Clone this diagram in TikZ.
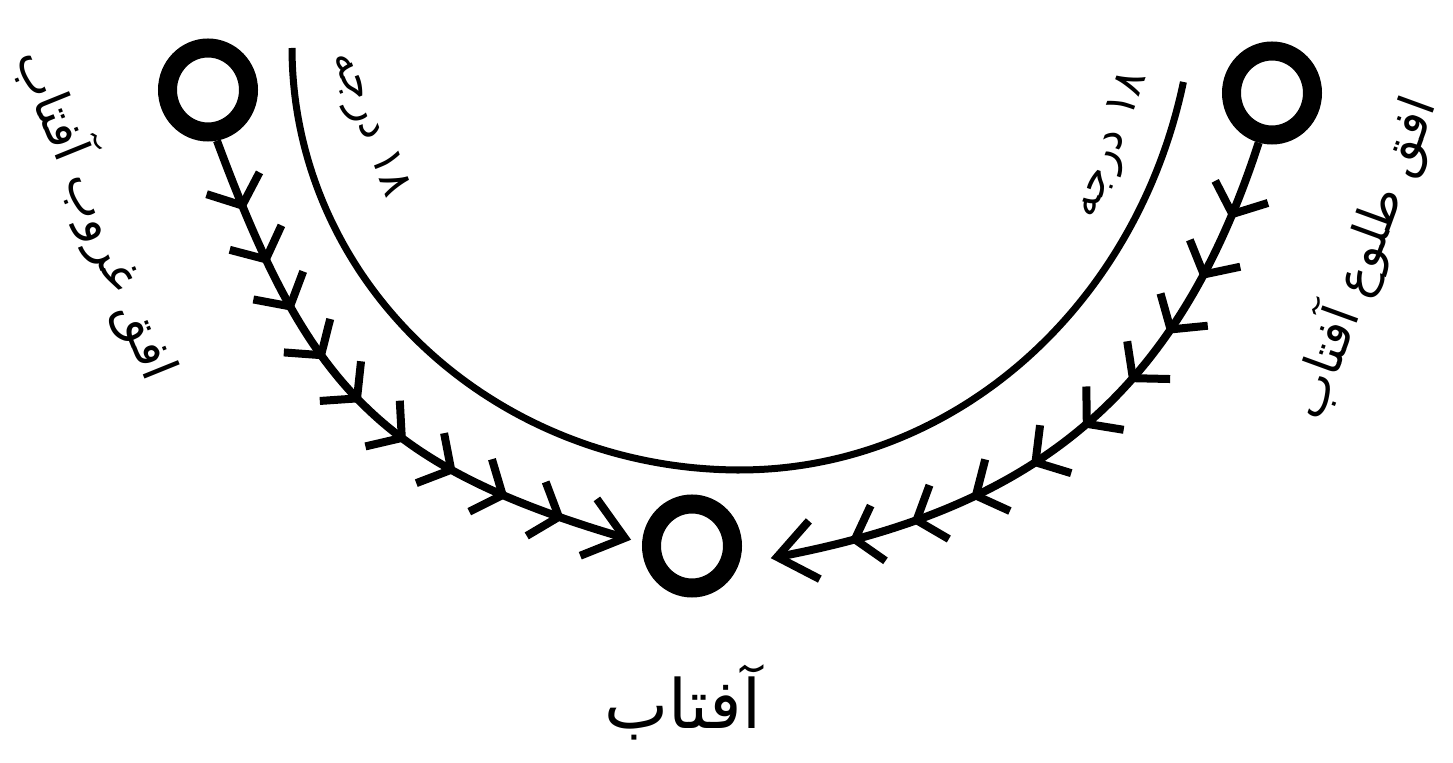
\documentclass[tikz,border=0pt]{standalone}
\usepackage{fontspec}
\newfontfamily\arabicfont[Script=Arabic]{DejaVu Sans}
\usetikzlibrary{shapes.geometric,decorations.markings}
\TeXXeTstate=1
\newcommand\chevmark{\draw[line width=4pt,line cap=butt,line join=miter] (-12pt,14.3pt) -- (0pt,0pt) -- (-12pt,-14.3pt);}
\newcommand\tipmark{\draw[line width=4pt,line cap=butt,line join=miter] (-18.9pt,14.8pt) -- (0pt,0pt) -- (-18.9pt,-14.8pt);}
\tikzset{
  ring/.style={ellipse, draw, line width=9.5pt, minimum width=40.5pt, minimum height=42pt, inner sep=0pt},
  biglabel/.style={font=\arabicfont\fontsize{25}{30}\selectfont, inner sep=0pt},
  smalllabel/.style={font=\arabicfont\fontsize{22}{27}\selectfont, inner sep=0pt},
  sunlabel/.style={font=\arabicfont\fontsize{34}{40}\selectfont, inner sep=0pt},
  flowline/.style={line width=4pt, line cap=butt, postaction={decorate}},
  arcline/.style={line width=3.5pt, line cap=butt}
}
\begin{document}
\begin{tikzpicture}[x=0.5pt,y=-0.5pt]
\fill[white] (0,0) rectangle (1453,763);
\useasboundingbox (0,0) rectangle (1453,763);
% circles
\node[ring] (lc) at (208,90) {};
\node[ring] (rc) at (1272,93) {};
\node[ring] (sun) at (692,546) {};
\coordinate (ltip) at (625,538);
\coordinate (rtip) at (777,557);
% labels
\node[sunlabel] (sunname) at (683,702) {\beginR آفتاب\endR};
\node[biglabel, rotate=-68] (setlabel) at (97,214) {\beginR افق غروب آفتاب\endR};
\node[biglabel, rotate=70] (riselabel) at (1362,258) {\beginR افق طلوع آفتاب\endR};
\node[smalllabel, rotate=-69] (ldeg) at (368,125) {\beginR\beginL ۱۸\endL{} درجه\endR};
\node[smalllabel, rotate=70] (rdeg) at (1112,145) {\beginR\beginL ۱۸\endL{} درجه\endR};
% big arc (two elliptic quarters)
\draw[arcline] plot[domain=0:90,samples=60,smooth] ({740-448*cos(\x)},{48+422*sin(\x)})
  -- plot[domain=90:12.94,samples=60,smooth] ({740+455*cos(\x)},{-30+500*sin(\x)});
% left flow
\draw[flowline, decoration={markings,
  mark=at position 0.1157 with {\chevmark},
  mark=at position 0.2135 with {\chevmark},
  mark=at position 0.3015 with {\chevmark},
  mark=at position 0.3977 with {\chevmark},
  mark=at position 0.4914 with {\chevmark},
  mark=at position 0.5908 with {\chevmark},
  mark=at position 0.6886 with {\chevmark},
  mark=at position 0.7839 with {\chevmark},
  mark=at position 0.8843 with {\chevmark},
  mark=at position 0.9995 with {\tipmark}}]
  (lc.-80) .. controls (307,383) and (376,465) .. (ltip);
% right flow
\draw[flowline, decoration={markings,
  mark=at position 0.1128 with {\chevmark},
  mark=at position 0.2118 with {\chevmark},
  mark=at position 0.3069 with {\chevmark},
  mark=at position 0.3983 with {\chevmark},
  mark=at position 0.4944 with {\chevmark},
  mark=at position 0.5894 with {\chevmark},
  mark=at position 0.6906 with {\chevmark},
  mark=at position 0.7858 with {\chevmark},
  mark=at position 0.8815 with {\chevmark},
  mark=at position 0.9995 with {\tipmark}}]
  (rc.-105) .. controls (1176,397) and (1033,509) .. (rtip);
\end{tikzpicture}
\end{document}
